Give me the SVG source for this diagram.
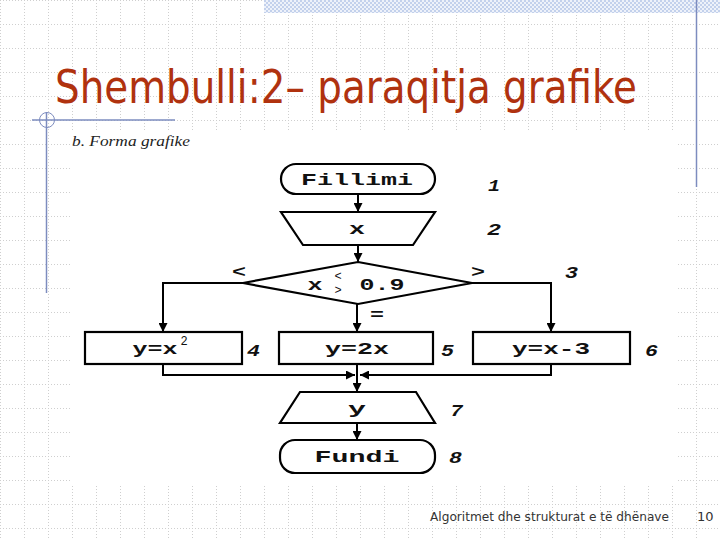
<svg xmlns="http://www.w3.org/2000/svg" width="720" height="540" viewBox="0 0 720 540">
<style>
.ln{fill:none;stroke:#000;stroke-width:2}
.sh{fill:#fff;stroke:#000;stroke-width:2.2}
.ft{font-family:"Liberation Mono",monospace;font-weight:bold;font-size:17px;fill:#111;text-anchor:middle}
.num{font-family:"Liberation Mono",monospace;font-weight:bold;font-style:italic;font-size:17px;fill:#111}
.thin{font-family:"Liberation Mono",monospace;font-size:12px;fill:#111;text-anchor:middle}
</style>
<defs>
<pattern id="grid" patternUnits="userSpaceOnUse" width="24" height="24">
<line x1="0" y1="0.5" x2="24" y2="0.5" stroke="#cfcfcf" stroke-width="1" stroke-dasharray="1 2"/>
<line x1="0.5" y1="0" x2="0.5" y2="24" stroke="#cfcfcf" stroke-width="1" stroke-dasharray="1 2"/>
</pattern>
<pattern id="hatch" patternUnits="userSpaceOnUse" width="4" height="4">
<rect width="4" height="4" fill="#eef2fa"/>
<rect width="2" height="2" fill="#c3d1ec"/>
<rect x="2" y="2" width="2" height="2" fill="#c3d1ec"/>
</pattern>
<marker id="ah" viewBox="0 0 10 10" refX="10" refY="5" markerWidth="4.5" markerHeight="4.5" orient="auto" markerUnits="strokeWidth">
<path d="M0,0 L10,5 L0,10 z" fill="#000"/>
</marker>
</defs>
<rect width="720" height="540" fill="#fff"/>
<rect width="720" height="540" fill="url(#grid)"/>
<rect x="264" y="0" width="456" height="13" fill="url(#hatch)"/>
<line x1="696.5" y1="0" x2="696.5" y2="187" stroke="#7d8cbf" stroke-width="1.5"/>
<line x1="46.5" y1="112" x2="46.5" y2="293" stroke="#7d8cbf" stroke-width="1.5"/>
<line x1="32" y1="120" x2="175" y2="120" stroke="#7d8cbf" stroke-width="1.5"/>
<circle cx="47" cy="120" r="7.5" fill="none" stroke="#7d8cbf" stroke-width="1"/>
<rect x="70" y="130" width="607" height="355" fill="#fff"/>
<text x="55" y="103" font-family="DejaVu Sans, Verdana, sans-serif" font-size="47" fill="#b0320f" textLength="582" lengthAdjust="spacingAndGlyphs">Shembulli:2– paraqitja grafike</text>
<text x="72" y="146" font-family="Liberation Serif, serif" font-style="italic" font-size="14" fill="#222" textLength="118" lengthAdjust="spacingAndGlyphs">b.  Forma grafike</text>

<g id="connectors">
<line class="ln" x1="358" y1="193" x2="358" y2="212" marker-end="url(#ah)"/>
<line class="ln" x1="358" y1="245" x2="358" y2="262" marker-end="url(#ah)"/>
<polyline class="ln" points="243,283 163,283 163,332" marker-end="url(#ah)"/>
<polyline class="ln" points="472,283 551,283 551,332" marker-end="url(#ah)"/>
<line class="ln" x1="357" y1="304" x2="357" y2="332" marker-end="url(#ah)"/>
<polyline class="ln" points="163,364 163,375 355,375" marker-end="url(#ah)"/>
<polyline class="ln" points="551,364 551,375 360,375" marker-end="url(#ah)"/>
<line class="ln" x1="357" y1="364" x2="357" y2="392" marker-end="url(#ah)"/>
<line class="ln" x1="357" y1="423" x2="357" y2="440" marker-end="url(#ah)"/>
</g>

<g id="n1">
<rect class="sh" x="281" y="164" width="154" height="30" rx="15"/>
<text class="ft" x="357" y="185" textLength="112" lengthAdjust="spacingAndGlyphs">Fillimi</text>
<text class="num" x="488" y="191" textLength="12" lengthAdjust="spacingAndGlyphs">1</text>
</g>
<g id="n2">
<polygon class="sh" points="281,212 435,212 413,245 303,245"/>
<text class="ft" x="357" y="234" textLength="16" lengthAdjust="spacingAndGlyphs">x</text>
<text class="num" x="487" y="235" textLength="14" lengthAdjust="spacingAndGlyphs">2</text>
</g>
<g id="n3">
<polygon class="sh" points="358,262 472,283 358,304 243,283"/>
<text class="ft" x="315" y="290" textLength="15" lengthAdjust="spacingAndGlyphs">x</text>
<text class="thin" x="338" y="280">&lt;</text>
<text class="thin" x="338" y="294">&gt;</text>
<text class="ft" x="382" y="290" textLength="45" lengthAdjust="spacingAndGlyphs">0.9</text>
<text class="num" x="565" y="278" textLength="13" lengthAdjust="spacingAndGlyphs">3</text>
<text class="ft" x="239" y="277" font-weight="normal" textLength="14" lengthAdjust="spacingAndGlyphs">&lt;</text>
<text class="ft" x="478" y="277" font-weight="normal" textLength="14" lengthAdjust="spacingAndGlyphs">&gt;</text>
<text class="ft" x="377" y="320" textLength="14" lengthAdjust="spacingAndGlyphs">=</text>
</g>
<g id="n4">
<rect class="sh" x="85" y="332" width="157" height="32"/>
<text class="ft" x="155" y="354" textLength="45" lengthAdjust="spacingAndGlyphs">y=x</text>
<text class="thin" x="184" y="345">2</text>
<text class="num" x="247" y="356" font-style="normal" textLength="13" lengthAdjust="spacingAndGlyphs">4</text>
</g>
<g id="n5">
<rect class="sh" x="279" y="332" width="154" height="32"/>
<text class="ft" x="357" y="354" textLength="64" lengthAdjust="spacingAndGlyphs">y=2x</text>
<text class="num" x="441" y="356" font-style="normal" textLength="13" lengthAdjust="spacingAndGlyphs">5</text>
</g>
<g id="n6">
<rect class="sh" x="473" y="332" width="157" height="32"/>
<text class="ft" x="551" y="354" textLength="78" lengthAdjust="spacingAndGlyphs">y=x-3</text>
<text class="num" x="645" y="356" textLength="13" lengthAdjust="spacingAndGlyphs">6</text>
</g>
<g id="n7">
<polygon class="sh" points="300,392 416,392 435,423 280,423"/>
<text class="ft" x="357" y="414" textLength="18" lengthAdjust="spacingAndGlyphs">y</text>
<text class="num" x="450" y="416" textLength="13" lengthAdjust="spacingAndGlyphs">7</text>
</g>
<g id="n8">
<rect class="sh" x="280" y="440" width="155" height="33" rx="15"/>
<text class="ft" x="357" y="462" textLength="85" lengthAdjust="spacingAndGlyphs">Fundi</text>
<text class="num" x="449" y="463" textLength="13" lengthAdjust="spacingAndGlyphs">8</text>
</g>

<text x="430" y="521" font-family="DejaVu Sans, Verdana, sans-serif" font-size="13" fill="#333" textLength="239" lengthAdjust="spacingAndGlyphs">Algoritmet dhe strukturat e të dhënave</text>
<text x="697" y="521" font-family="DejaVu Sans, Verdana, sans-serif" font-size="13" fill="#333">10</text>
</svg>
